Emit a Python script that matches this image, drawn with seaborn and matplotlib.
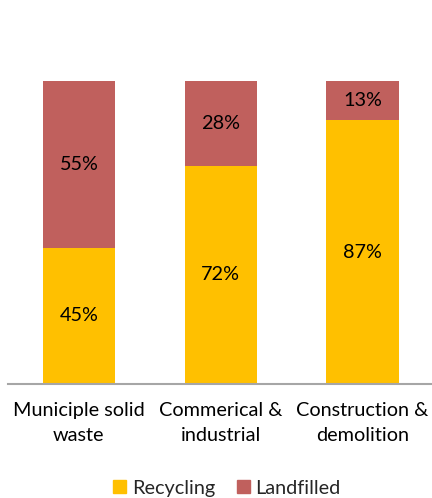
import pandas as pd
import numpy as np
import seaborn as sns
import matplotlib.pyplot as plt
from matplotlib.patches import Patch

categories = ["Municiple solid\nwaste", "Commerical &\nindustrial", "Construction &\ndemolition"]
recycling = [45, 72, 87]
landfilled = [55, 28, 13]

df = pd.DataFrame({"cat": categories, "rec": recycling, "land": landfilled})
df["total"] = df["rec"] + df["land"]

sns.set_style("white")
plt.rcParams['font.family'] = ['Lato', 'DejaVu Sans']

yellow = "#FFC000"
red = "#C0605D"
fs = 14.3

fig = plt.figure(figsize=(4.32, 4.98), dpi=100)
ax = fig.add_axes([8/432, 114/498, 425.5/432, 303/498])

# stack: draw total in red, then recycling on top in yellow
sns.barplot(data=df, x="cat", y="total", color=red, width=0.51, ax=ax,
            saturation=1, errorbar=None, linewidth=0)
sns.barplot(data=df, x="cat", y="rec", color=yellow, width=0.51, ax=ax,
            saturation=1, errorbar=None, linewidth=0)

for i, (r, l) in enumerate(zip(recycling, landfilled)):
    ax.text(i, r / 2, f"{r}%", ha="center", va="center", fontsize=fs, color="black")
    ax.text(i, r + l / 2, f"{l}%", ha="center", va="center", fontsize=fs, color="black")

ax.set_ylim(0, 100)
ax.set_xlim(-0.5, 2.5)
ax.set_yticks([])
ax.set_xlabel("")
ax.set_ylabel("")
for s in ["top", "right", "left"]:
    ax.spines[s].set_visible(False)
ax.spines["bottom"].set_color("#A6A6A6")
ax.spines["bottom"].set_linewidth(1.5)
ax.tick_params(axis="x", length=0, pad=13, labelsize=fs, colors="black")
for t in ax.get_xticklabels():
    t.set_linespacing(1.6)

handles = [Patch(color=yellow, label="Recycling"), Patch(color=red, label="Landfilled")]
fig.legend(handles=handles, loc="center", bbox_to_anchor=(0.525, 1 - 488/498), ncol=2,
           frameon=False, fontsize=fs, handlelength=0.65, handleheight=0.65,
           handletextpad=0.3, columnspacing=1.1)

plt.savefig("out.png", dpi=100)
